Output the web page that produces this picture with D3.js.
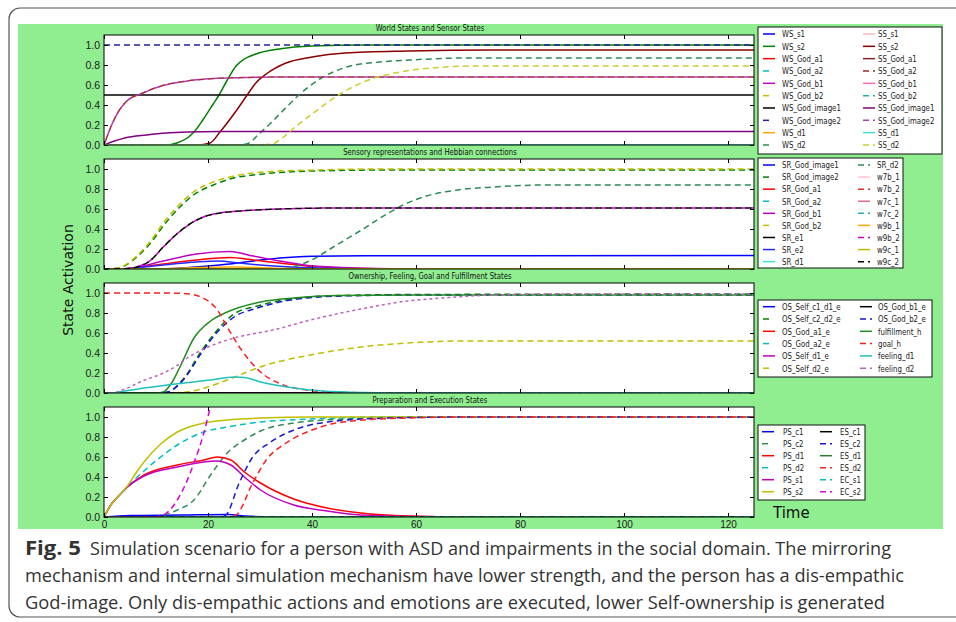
<!DOCTYPE html>
<html>
<head>
<meta charset="utf-8">
<script src="https://cdn.jsdelivr.net/npm/d3@7"></script>
<style>
html, body { margin: 0; padding: 0; background: #fff; }
svg { display: block; font-family: "DejaVu Sans", sans-serif; }
</style>
</head>
<body>
<svg id="chart" width="956" height="622"></svg>
<script>
// tick labels
const xTicks = [0, 20, 40, 60, 80, 100, 120];
const yTicks = [0, 0.2, 0.4, 0.6, 0.8, 1.0];
const panelTitles = [
    'World States and Sensor States',
    'Sensory representations and Hebbian connections',
    'Ownership, Feeling, Goal and Fulfillment States',
    'Preparation and Execution States'
];

// series values, [time, activation]
const zero = [[0, 0], [125, 0]];
const one = [[0, 1], [125, 1]];
const half = [[0, 0.5], [125, 0.5]];

// World states and sensor states
const wsS2 = [[0, 0], [12, 0], [14, 0.02], [16, 0.07], [17.3, 0.13], [19, 0.25], [21, 0.41], [22, 0.49], [23.5, 0.63], [25.4, 0.79], [27, 0.86], [29.2, 0.91], [33.7, 0.96], [40, 0.99], [50, 1], [125, 1]];
const ssS2 = [[0, 0], [18, 0], [20.4, 0.02], [22.3, 0.13], [25.4, 0.34], [27.4, 0.49], [29.2, 0.62], [31.2, 0.71], [35, 0.82], [40, 0.88], [46.4, 0.92], [58.6, 0.94], [75, 0.95], [125, 0.95]];
const wsD2 = [[0, 0], [25, 0], [27.4, 0.01], [30, 0.12], [31.9, 0.21], [35.1, 0.38], [37.7, 0.51], [41.5, 0.66], [46.7, 0.78], [53, 0.83], [58.8, 0.85], [70, 0.87], [125, 0.87]];
const ssD2 = [[0, 0], [30, 0], [32.3, 0.01], [34.5, 0.08], [36.8, 0.18], [40, 0.31], [45.4, 0.51], [49.9, 0.63], [56.9, 0.73], [63, 0.77], [72, 0.79], [125, 0.79]];
const ssGodImage2 = [[0, 0], [1, 0.14], [2.3, 0.29], [4.2, 0.43], [7.5, 0.52], [11, 0.59], [16, 0.64], [23.7, 0.67], [35, 0.68], [125, 0.68]];
const ssGodImage1 = [[0, 0], [2, 0.04], [4, 0.07], [8.2, 0.1], [12, 0.12], [16, 0.13], [22, 0.135], [125, 0.135]];

// Sensory representations and Hebbian connections
const srGodB2 = [[0, 0], [2, 0.005], [3.7, 0.03], [6.3, 0.13], [8.8, 0.27], [12, 0.5], [14.6, 0.65], [17.2, 0.77], [21, 0.87], [24.2, 0.92], [30.6, 0.97], [40.3, 0.99], [55, 1], [125, 1]];
const srGodImage2 = [[0, 0], [2, 0.004], [3.7, 0.025], [6.3, 0.12], [8.8, 0.25], [12, 0.47], [14.6, 0.62], [17.2, 0.74], [21, 0.84], [24.2, 0.9], [30.6, 0.95], [40.3, 0.98], [55, 0.99], [125, 0.99]];
const w9c2 = [[0, 0], [4, 0], [6.3, 0.02], [8.8, 0.08], [11.4, 0.22], [14, 0.35], [16.5, 0.45], [19.1, 0.52], [22.3, 0.56], [26.2, 0.58], [33.8, 0.6], [45, 0.61], [125, 0.61]];
const srD2 = [[0, 0], [34, 0], [37, 0.03], [40.3, 0.1], [44.1, 0.22], [49.2, 0.38], [54.4, 0.55], [57.9, 0.65], [62, 0.73], [68, 0.79], [75, 0.82], [85, 0.84], [125, 0.84]];
const srGodImage1 = [[0, 0], [10, 0], [15, 0.01], [20, 0.03], [24.2, 0.05], [28.7, 0.08], [33.8, 0.11], [40.3, 0.127], [50, 0.133], [125, 0.135]];
const srGodB1 = [[0, 0], [3, 0], [5.6, 0.01], [11.4, 0.08], [17.8, 0.15], [24.2, 0.175], [28.7, 0.13], [33.8, 0.08], [40.3, 0.03], [50, 0.008], [60, 0], [125, 0]];
const srGodA1 = [[0, 0], [3, 0], [5.6, 0.01], [11.4, 0.05], [17.8, 0.09], [24.2, 0.115], [28.7, 0.09], [33.8, 0.06], [40.3, 0.025], [50, 0.006], [60, 0], [125, 0]];
const srE2 = [[0, 0], [3, 0], [6, 0.01], [11.4, 0.04], [17.8, 0.07], [22, 0.08], [26, 0.06], [30, 0.04], [36, 0.02], [45, 0.005], [55, 0], [125, 0]];
const w9b1 = [[0, 0], [10, 0], [18, 0.015], [25, 0.02], [32, 0.01], [40, 0], [125, 0]];

// Ownership, feeling, goal and fulfillment
const goalH = [[0, 1], [10, 1], [15.4, 0.995], [18.6, 0.96], [21.8, 0.83], [23.7, 0.66], [26.3, 0.44], [30.1, 0.21], [34, 0.09], [39, 0.03], [45, 0.008], [55, 0], [125, 0]];
const fulfillmentH = [[0, 0], [10, 0], [11.4, 0.01], [13, 0.1], [14.6, 0.26], [17.3, 0.55], [20.5, 0.72], [23.7, 0.81], [30.1, 0.91], [36.5, 0.95], [45, 0.975], [60, 0.98], [125, 0.98]];
const osGodB2E = [[0, 0], [11, 0], [12.3, 0.01], [15.4, 0.14], [18.6, 0.39], [21.8, 0.61], [25, 0.76], [29.5, 0.85], [35.9, 0.93], [45.5, 0.97], [60, 0.98], [125, 0.98]];
const osSelfC2D2E = [[0, 0], [11, 0], [12.3, 0.01], [15.4, 0.15], [18.6, 0.41], [21.8, 0.63], [25, 0.79], [29.5, 0.87], [35.9, 0.94], [45.5, 0.975], [60, 0.985], [125, 0.99]];
const osSelfD2E = [[0, 0], [13, 0], [14.8, 0.005], [18, 0.03], [20.5, 0.07], [23.7, 0.13], [27, 0.2], [30, 0.26], [39.7, 0.38], [49.4, 0.46], [58.3, 0.5], [70, 0.52], [125, 0.52]];
const feelingD1 = [[0, 0], [1.4, 0], [4, 0.02], [7.7, 0.05], [14.1, 0.093], [20.5, 0.13], [25, 0.16], [27, 0.155], [30.1, 0.11], [36.5, 0.05], [42, 0.02], [50, 0.005], [60, 0], [125, 0]];
const feelingD2 = [[0, 0], [1.5, 0], [4, 0.04], [7.7, 0.127], [11, 0.19], [14.1, 0.277], [16, 0.35], [19.2, 0.44], [23.7, 0.53], [33.3, 0.64], [39.7, 0.73], [49.4, 0.84], [58.3, 0.92], [65, 0.95], [75, 0.98], [90, 0.99], [125, 0.99]];

// Preparation and execution
const psS2 = [[0, 0], [1.3, 0.12], [3, 0.22], [4.5, 0.31], [6, 0.43], [7.7, 0.55], [10.9, 0.73], [14.1, 0.85], [19.2, 0.94], [23.7, 0.97], [30.1, 0.99], [40, 1], [125, 1]];
const psD2 = [[0, 0], [1.3, 0.12], [3, 0.22], [4.5, 0.3], [6, 0.38], [7.7, 0.46], [10.9, 0.6], [14.1, 0.72], [19.2, 0.85], [23.7, 0.9], [30.1, 0.95], [39.7, 0.98], [55, 1], [125, 1]];
const psD1 = [[0, 0], [1.3, 0.12], [3, 0.22], [4.5, 0.3], [7.7, 0.42], [14.1, 0.52], [19.2, 0.57], [21.8, 0.6], [24.4, 0.57], [27, 0.45], [30.1, 0.34], [36.5, 0.18], [42.9, 0.09], [49.4, 0.04], [58.8, 0.01], [70, 0], [125, 0]];
const psS1 = [[0, 0], [1.3, 0.12], [3, 0.22], [4.5, 0.3], [7.7, 0.41], [14.1, 0.5], [19.2, 0.55], [21.5, 0.56], [24.4, 0.52], [27, 0.4], [30.1, 0.27], [36.5, 0.12], [42.9, 0.06], [49.4, 0.02], [58.8, 0.005], [70, 0], [125, 0]];
const ecS2 = [[0, 0], [9, 0], [10.9, 0.01], [12.5, 0.06], [14.1, 0.17], [15.7, 0.33], [17.3, 0.54], [19.2, 0.84], [20.5, 1.11], [22, 1.4]];
const psC2 = [[0, 0], [9, 0], [10.9, 0.01], [14.1, 0.07], [17.3, 0.17], [20.5, 0.42], [23.7, 0.64], [27, 0.77], [30.1, 0.86], [36.5, 0.94], [46, 0.98], [60, 1], [125, 1]];
const esC2 = [[0, 0], [22, 0], [23.4, 0.02], [26, 0.34], [28.6, 0.6], [31.8, 0.74], [36.5, 0.87], [43, 0.95], [55, 0.99], [70, 1], [125, 1]];
const esD2 = [[0, 0], [24, 0], [25.4, 0.02], [28.6, 0.34], [31.2, 0.57], [35, 0.74], [40, 0.87], [46, 0.95], [58, 0.99], [72, 1], [125, 1]];
const psC1 = [[0, 0], [5, 0.015], [15, 0.02], [24, 0.025], [27, 0.01], [35, 0], [125, 0]];

const DASH = '6,4';
const NARROW = '"DejaVu Sans Condensed", "Liberation Sans Narrow", sans-serif';

const panels = [
    {
        legend: {x: 758, y: 27, w: 184, h: 127, y0: 34, dy: 12.33, cols: [[763, 782], [863, 878]]},
        series: [
            {name: 'WS_s1', data: zero, color: '#0000ff'},
            {name: 'WS_s2', data: wsS2, color: '#008000'},
            {name: 'WS_God_a1', data: zero, color: '#ff0000'},
            {name: 'WS_God_a2', data: zero, color: '#00bfbf', dash: DASH},
            {name: 'WS_God_b1', data: zero, color: '#bf00bf'},
            {name: 'WS_God_b2', data: zero, color: '#bfbf00', dash: DASH},
            {name: 'WS_God_image1', data: half, color: '#000000'},
            {name: 'WS_God_image2', data: one, color: '#22229a', dash: DASH},
            {name: 'WS_d1', data: zero, color: '#ffa500'},
            {name: 'WS_d2', data: wsD2, color: '#2e8b57', dash: DASH},
            {name: 'SS_s1', data: zero, color: '#ffb6c1'},
            {name: 'SS_s2', data: ssS2, color: '#8b0000'},
            {name: 'SS_God_a1', data: zero, color: '#8b2323'},
            {name: 'SS_God_a2', data: ssGodImage2, color: '#a0282a', dash: DASH, offset: 5},
            {name: 'SS_God_b1', data: zero, color: '#ff69b4'},
            {name: 'SS_God_b2', data: zero, color: '#20b2aa', dash: DASH},
            {name: 'SS_God_image1', data: ssGodImage1, color: '#800080'},
            {name: 'SS_God_image2', data: ssGodImage2, color: '#b03ab0', dash: DASH},
            {name: 'SS_d1', data: zero, color: '#40e0d0'},
            {name: 'SS_d2', data: ssD2, color: '#cccc33', dash: DASH}
        ]
    },
    {
        legend: {x: 758, y: 158, w: 145, h: 110, y0: 165, dy: 12.08, cols: [[763, 782], [858, 877]]},
        series: [
            {name: 'SR_God_image1', data: srGodImage1, color: '#0000ff'},
            {name: 'SR_God_image2', data: srGodImage2, color: '#008000', dash: DASH},
            {name: 'SR_God_a1', data: srGodA1, color: '#ff0000'},
            {name: 'SR_God_a2', data: zero, color: '#00bfbf', dash: DASH},
            {name: 'SR_God_b1', data: srGodB1, color: '#bf00bf'},
            {name: 'SR_God_b2', data: srGodB2, color: '#bfbf00', dash: DASH},
            {name: 'SR_e1', data: zero, color: '#000000'},
            {name: 'SR_e2', data: srE2, color: '#2a2aff'},
            {name: 'SR_d1', data: zero, color: '#40e0d0'},
            {name: 'SR_d2', data: srD2, color: '#2e8b57', dash: DASH},
            {name: 'w7b_1', data: zero, color: '#ffc0cb'},
            {name: 'w7b_2', data: zero, color: '#d03030', dash: DASH},
            {name: 'w7c_1', data: zero, color: '#db7093'},
            {name: 'w7c_2', data: zero, color: '#20b2aa', dash: DASH},
            {name: 'w9b_1', data: w9b1, color: '#ffa500'},
            {name: 'w9b_2', data: w9c2, color: '#c000c0', dash: DASH, offset: 5},
            {name: 'w9c_1', data: zero, color: '#b8b800'},
            {name: 'w9c_2', data: w9c2, color: '#000000', dash: DASH}
        ]
    },
    {
        legend: {x: 758, y: 300, w: 174, h: 77, y0: 306.7, dy: 12.3, cols: [[763, 782], [860, 878]]},
        series: [
            {name: 'OS_Self_c1_d1_e', data: zero, color: '#0000ff'},
            {name: 'OS_Self_c2_d2_e', data: osSelfC2D2E, color: '#008000', dash: DASH},
            {name: 'OS_God_a1_e', data: zero, color: '#ff0000'},
            {name: 'OS_God_a2_e', data: zero, color: '#00bfbf', dash: DASH},
            {name: 'OS_Self_d1_e', data: zero, color: '#bf00bf'},
            {name: 'OS_Self_d2_e', data: osSelfD2E, color: '#bfbf00', dash: DASH},
            {name: 'OS_God_b1_e', data: zero, color: '#000000'},
            {name: 'OS_God_b2_e', data: osGodB2E, color: '#1515cc', dash: DASH},
            {name: 'fulfillment_h', data: fulfillmentH, color: '#228b22'},
            {name: 'goal_h', data: goalH, color: '#ff2020', dash: DASH},
            {name: 'feeling_d1', data: feelingD1, color: '#20c0c0'},
            {name: 'feeling_d2', data: feelingD2, color: '#c060c0', dash: '3,3'}
        ]
    },
    {
        legend: {x: 758, y: 425, w: 107, h: 75, y0: 431.7, dy: 12, cols: [[762, 783], [820, 840]]},
        series: [
            {name: 'PS_c1', data: psC1, color: '#0000ff'},
            {name: 'PS_c2', data: psC2, color: '#2e8b57', dash: DASH},
            {name: 'PS_d1', data: psD1, color: '#ff0000'},
            {name: 'PS_d2', data: psD2, color: '#00bfbf', dash: DASH},
            {name: 'PS_s1', data: psS1, color: '#bf00bf'},
            {name: 'PS_s2', data: psS2, color: '#bfbf00'},
            {name: 'ES_c1', data: zero, color: '#000000'},
            {name: 'ES_c2', data: esC2, color: '#1a1ad0', dash: DASH},
            {name: 'ES_d1', data: zero, color: '#2e7d32'},
            {name: 'ES_d2', data: esD2, color: '#ff2020', dash: DASH},
            {name: 'EC_s1', data: zero, color: '#00bfbf', dash: DASH},
            {name: 'EC_s2', data: ecS2, color: '#dd00dd', dash: DASH}
        ]
    }
];

// squeeze condensed text horizontally, the original legend font is narrower
function squeeze(sel, f) {
    sel.each(function () {
        const w = this.getComputedTextLength();
        d3.select(this).attr('textLength', w * f).attr('lengthAdjust', 'spacingAndGlyphs');
    });
}

function chart() {
    chart.frame();
    chart.panels();
    chart.labels();
    chart.caption();
}

chart.frame = function () {
    const svg = d3.select('#chart');
    svg.append('rect')
        .attr('x', 9).attr('y', 8)
        .attr('width', 980).attr('height', 609)
        .attr('rx', 11)
        .attr('fill', '#fff')
        .attr('stroke', '#555')
        .attr('stroke-width', 1.2);
    svg.append('rect')
        .attr('x', 18).attr('y', 24)
        .attr('width', 925).attr('height', 505)
        .attr('fill', '#90ee90');
};

chart.panels = function () {
    const svg = d3.select('#chart');
    const x = d3.scaleLinear().domain([0, 125]).range([104, 754]);

    panels.forEach(function (p, i) {
        const top = 35 + 124 * i;
        const bottom = top + 110;
        const y = d3.scaleLinear().domain([0, 1.1]).range([bottom, top]);
        const g = svg.append('g');

        g.append('clipPath').attr('id', 'clip' + i)
            .append('rect')
            .attr('x', 104).attr('y', top)
            .attr('width', 650).attr('height', 110);

        g.append('rect')
            .attr('x', 104).attr('y', top)
            .attr('width', 650).attr('height', 110)
            .attr('fill', '#fff');

        const title = g.append('text')
            .attr('x', 430).attr('y', top - 4)
            .attr('text-anchor', 'middle')
            .style('font-family', NARROW)
            .style('font-size', '8.5px')
            .attr('fill', '#111')
            .text(panelTitles[i]);
        squeeze(title, 0.9);

        const line = d3.line()
            .x(d => x(d[0]))
            .y(d => y(d[1]))
            .curve(d3.curveMonotoneX);

        const lines = g.append('g').attr('clip-path', `url(#clip${i})`);
        p.series.forEach(function (s) {
            lines.append('path')
                .attr('d', line(s.data))
                .attr('fill', 'none')
                .attr('stroke', s.color)
                .attr('stroke-width', 1.5)
                .attr('stroke-dasharray', s.dash || null)
                .attr('stroke-dashoffset', s.offset || null);
        });

        // axes, ticks inward on all four sides
        const left = g.append('g').attr('transform', 'translate(104,0)')
            .call(d3.axisLeft(y).tickValues(yTicks).tickFormat(d3.format('.1f')).tickSize(-4).tickPadding(4));
        g.append('g').attr('transform', 'translate(754,0)')
            .call(d3.axisRight(y).tickValues(yTicks).tickFormat('').tickSize(-4));
        g.append('g').attr('transform', `translate(0,${top})`)
            .call(d3.axisTop(x).tickValues(xTicks).tickFormat('').tickSize(-4));
        const bot = g.append('g').attr('transform', `translate(0,${bottom})`)
            .call(d3.axisBottom(x).tickValues(xTicks).tickSize(-4).tickPadding(4)
                .tickFormat(i === 3 ? d3.format('d') : ''));
        g.selectAll('.domain').remove();
        g.selectAll('.tick line').attr('stroke', '#000');
        left.selectAll('text').style('font-size', '10.5px').attr('fill', '#1a1a1a');
        bot.selectAll('text').style('font-size', '10px').attr('fill', '#1a1a1a');

        g.append('rect')
            .attr('x', 104).attr('y', top)
            .attr('width', 650).attr('height', 110)
            .attr('fill', 'none')
            .attr('stroke', '#000')
            .attr('stroke-width', 1);

        chart.legend(g, p);
    });
};

chart.legend = function (g, p) {
    const L = p.legend;
    const box = g.append('g');
    box.append('rect')
        .attr('x', L.x).attr('y', L.y)
        .attr('width', L.w).attr('height', L.h)
        .attr('fill', '#fff')
        .attr('stroke', '#111')
        .attr('stroke-width', 1);

    const perCol = Math.ceil(p.series.length / 2);
    p.series.forEach(function (s, k) {
        const c = k < perCol ? 0 : 1;
        const r = k % perCol;
        const cy = L.y0 + r * L.dy;
        const sx = L.cols[c][0];
        box.append('line')
            .attr('x1', sx).attr('x2', sx + 12)
            .attr('y1', cy).attr('y2', cy)
            .attr('stroke', s.color)
            .attr('stroke-width', 1.5)
            .attr('stroke-dasharray', s.dash ? (c === 0 ? '6,10' : '6,4') : null);
        const t = box.append('text')
            .attr('x', L.cols[c][1]).attr('y', cy)
            .attr('dy', '0.35em')
            .style('font-family', NARROW)
            .style('font-size', '9.5px')
            .attr('fill', '#222')
            .text(s.name);
        squeeze(t, 0.82);
    });
};

chart.labels = function () {
    const svg = d3.select('#chart');
    svg.append('text')
        .attr('transform', 'translate(73,280) rotate(-90)')
        .attr('text-anchor', 'middle')
        .style('font-size', '14px')
        .attr('fill', '#111')
        .text('State Activation');
    svg.append('text')
        .attr('x', 773).attr('y', 518)
        .style('font-size', '15px')
        .attr('fill', '#111')
        .text('Time');
};

chart.caption = function () {
    const svg = d3.select('#chart');
    const font = '"Open Sans", "Noto Sans", sans-serif';
    svg.append('text')
        .attr('x', 25).attr('y', 555)
        .style('font-family', font)
        .style('font-size', '19px')
        .style('font-weight', 'bold')
        .attr('fill', '#333')
        .attr('textLength', 56)
        .attr('lengthAdjust', 'spacingAndGlyphs')
        .text('Fig. 5');
    const lines = [
        {x: 90, y: 555, w: 801, t: 'Simulation scenario for a person with ASD and impairments in the social domain. The mirroring'},
        {x: 25, y: 582, w: 879, t: 'mechanism and internal simulation mechanism have lower strength, and the person has a dis-empathic'},
        {x: 25, y: 609, w: 860, t: 'God-image. Only dis-empathic actions and emotions are executed, lower Self-ownership is generated'}
    ];
    lines.forEach(function (l) {
        svg.append('text')
            .attr('x', l.x).attr('y', l.y)
            .style('font-family', font)
            .style('font-size', '19px')
            .attr('fill', '#333')
            .attr('textLength', l.w)
            .attr('lengthAdjust', 'spacingAndGlyphs')
            .text(l.t);
    });
};

chart();
</script>
</body>
</html>
